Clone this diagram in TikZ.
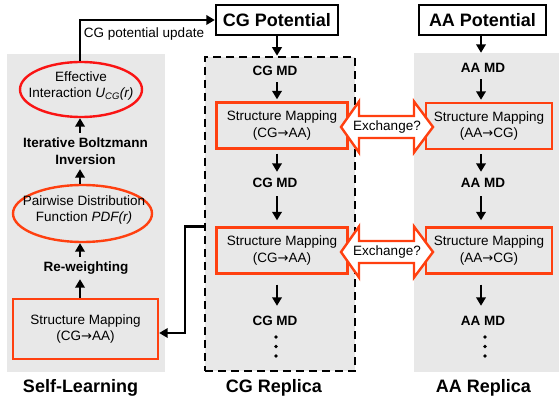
\documentclass[tikz,border=0pt]{standalone}
\usepackage{fontspec}
\setmainfont{Liberation Sans}
\newfontfamily\symfont{DejaVu Sans}
\newcommand{\toarrow}{{\symfont\fontsize{13}{16}\selectfont →}}
\usetikzlibrary{arrows.meta,shapes.geometric,calc}
\definecolor{panelgray}{RGB}{232,232,232}
\definecolor{ored}{RGB}{255,64,16}
\definecolor{rred}{RGB}{250,20,20}
\begin{document}
\begin{tikzpicture}[x=1pt,y=-1pt,
  every node/.style={font=\fontsize{13.5}{16.5}\selectfont, inner sep=0pt, align=center},
  big/.style={font=\fontsize{18}{21}\selectfont\bfseries},
  bold/.style={font=\fontsize{13.5}{16.5}\selectfont\bfseries},
  md/.style={bold, minimum height=22pt},
  smbox/.style={draw=ored, line width=2.4pt, minimum height=46pt},
  potbox/.style={big, draw=black, fill=white, line width=2.4pt, minimum height=30pt},
  oval/.style={ellipse, line width=2.4pt},
  flow/.style={line width=2.8pt, -{Triangle[length=8.5pt,width=9.5pt]}},
  xarrow/.style={draw=ored, fill=white, line width=2.4pt, line join=miter},
  dotfill/.style={fill=black}
]
\useasboundingbox (0,0) rectangle (559,398);

% panels
\node[fill=panelgray, minimum width=158pt, minimum height=318pt] (slpanel) at (86,213) {};
\node[fill=panelgray, draw=black, line width=2.6pt, dash pattern=on 8pt off 5pt,
      minimum width=150pt, minimum height=314pt] (cgrep) at (280,214) {};
\node[fill=panelgray, minimum width=145pt, minimum height=319pt] (aarep) at (486.5,212.5) {};

% self-learning column
\coordinate (lx) at (80,0);
\node[oval, draw=rred, minimum width=122pt, minimum height=55pt] (eff) at (81,89.5) {};
\node (efftxt) at (81,86) {Effective\\Interaction \textit{U}\textsubscript{\textit{CG}}\textit{(r)}};
\node[bold, minimum height=36pt] (ibi) at (85.5,151) {Iterative Boltzmann\\Inversion};
\node[oval, draw=ored, minimum width=139pt, minimum height=57pt] (pdf) at (82.5,213.5) {};
\node (pdftxt) at (84,210) {Pairwise Distribution\\Function \textit{PDF(r)}};
\node[md] (rew) at (86,268) {Re-weighting};
\node[draw=ored, line width=2.4pt, minimum width=145pt, minimum height=60pt] (lsm) at (85.5,329)
  {Structure Mapping\\(CG\toarrow AA)};
\node[big] (sl) at (80.5,388) {Self-Learning};

\draw[flow] (lx |- lsm.north) -- (lx |- rew.south);
\draw[flow] (lx |- rew.north) -- (lx |- pdf.south);
\draw[flow] (lx |- pdf.north) -- (lx |- ibi.south);
\draw[flow] (lx |- ibi.north) -- (lx |- eff.south);

% potentials
\node[potbox, minimum width=122pt] (cgpot) at (277,20) {CG Potential};
\node[potbox, minimum width=127pt] (aapot) at (482.5,20) {AA Potential};
\draw[line width=2.8pt, -{Triangle[length=8.5pt,width=9.5pt]}] (lx |- eff.north) |- (cgpot.west);
\node (upd) at (144,34) {CG potential update};

% CG replica column
\coordinate (cx) at (277,0);
\node[md] (cgmd1) at (275,71) {CG MD};
\node[smbox, minimum width=131pt] (cgsm1) at (282,125.5) {Structure Mapping\\(CG\toarrow AA)};
\node[md] (cgmd2) at (275,183) {CG MD};
\node[smbox, minimum width=131pt] (cgsm2) at (282,250.5) {Structure Mapping\\(CG\toarrow AA)};
\node[md] (cgmd3) at (275,321) {CG MD};
\fill[dotfill] (276,337) circle (1.8) (276,346.5) circle (1.8) (276,356) circle (1.8);
\node[big] (cglab) at (274,388) {CG Replica};

\draw[flow] (cgpot.south) -- (cgpot.south |- cgrep.north);
\draw[flow, shorten >=2pt] (cx |- cgmd1.south) -- (cx |- cgsm1.north);
\draw[flow, shorten <=4pt] (cx |- cgsm1.south) -- (cx |- cgmd2.north);
\draw[flow, shorten <=2pt, shorten >=6pt] (cx |- cgmd2.south) -- (cx |- cgsm2.north);
\draw[flow, shorten <=10pt, shorten >=4pt] (cx |- cgsm2.south) -- (cx |- cgmd3.north);

% AA replica column
\coordinate (ax) at (481,0);
\node[md] (aamd1) at (483,68) {AA MD};
\node[smbox, minimum width=126pt] (aasm1) at (489,126) {Structure Mapping\\(AA\toarrow CG)};
\node[md] (aamd2) at (483,183) {AA MD};
\node[smbox, minimum width=126pt] (aasm2) at (489,250.5) {Structure Mapping\\(AA\toarrow CG)};
\node[md] (aamd3) at (483,321) {AA MD};
\fill[dotfill] (485,337) circle (1.8) (485,346.5) circle (1.8) (485,356) circle (1.8);
\node[big] (aalab) at (483.5,388) {AA Replica};

\draw[flow] (ax |- aapot.south) -- (ax |- aarep.north);
\draw[flow, shorten >=2pt] (ax |- aamd1.south) -- (ax |- aasm1.north);
\draw[flow, shorten <=4pt] (ax |- aasm1.south) -- (ax |- aamd2.north);
\draw[flow, shorten <=2pt, shorten >=6pt] (ax |- aamd2.south) -- (ax |- aasm2.north);
\draw[flow, shorten <=10pt, shorten >=4pt] (ax |- aasm2.south) -- (ax |- aamd3.north);

% exchange arrows
\foreach \b in {cgsm1,cgsm2} {
  \begin{scope}[shift={(\b.center)}]
    \draw[xarrow] (59,1.5) -- (77,-24) -- (77,-9.5) -- (132,-9.5) -- (132,-24) -- (151,1.5)
      -- (132,27) -- (132,12.5) -- (77,12.5) -- (77,27) -- cycle;
    \node (ex\b) at (105,1.5) {Exchange?};
  \end{scope}
}

% link from CG replica to self-learning
\coordinate (lk) at (185,0);
\coordinate (lsmin) at ([yshift=-4pt]lsm.east);
\draw[line width=2.8pt, -{Triangle[length=8.5pt,width=9.5pt]}]
  (cgrep.west |- cgsm2.north) -- (lk |- cgsm2.north) -- (lk |- lsmin) -- (lsmin);
\end{tikzpicture}
\end{document}
